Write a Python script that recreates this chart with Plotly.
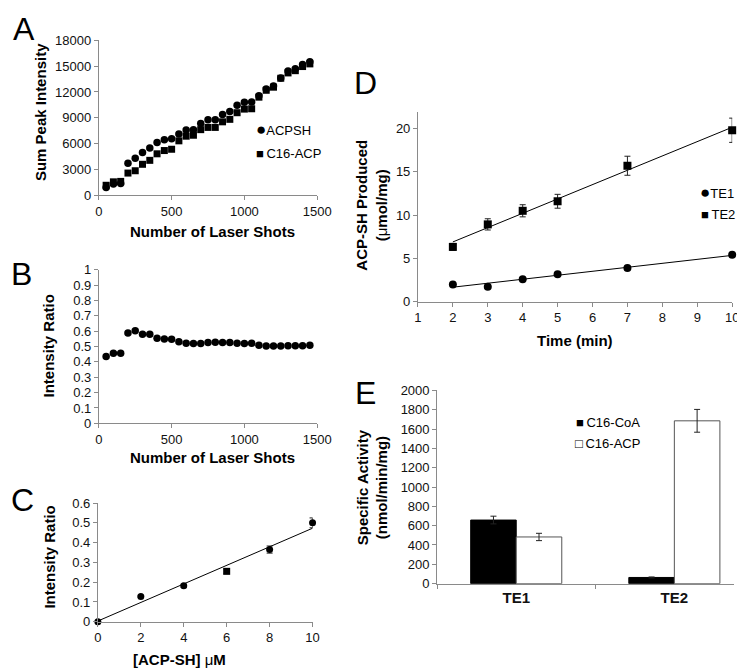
import numpy as np
import plotly.graph_objects as go

# ---------------- data ----------------
# Panel A / B
shots = [50, 100, 150, 200, 250, 300, 350, 400, 450, 500, 550, 600, 650, 700, 750,
         800, 850, 900, 950, 1000, 1050, 1100, 1150, 1200, 1250, 1300, 1350, 1400, 1450]
acpsh = [900, 1300, 1350, 3710, 4280, 4960, 5490, 6140, 6440, 6550, 7120, 7570, 7610, 8330, 8760,
         8760, 9390, 9730, 10460, 10800, 10840, 11550, 12350, 12700, 13640, 14440, 14700, 15190, 15530]
c16_acp = [1150, 1550, 1600, 2570, 2840, 3590, 4050, 4810, 5190, 5340, 6320, 6860, 6970, 7620, 7880,
           7880, 8530, 8820, 9590, 10010, 10050, 11400, 12200, 12560, 13600, 14220, 14480, 14960, 15270]
ratio_b = [0.436, 0.457, 0.457, 0.589, 0.603, 0.580, 0.580, 0.554, 0.550, 0.548, 0.531, 0.522, 0.520,
           0.520, 0.526, 0.529, 0.526, 0.526, 0.522, 0.520, 0.522, 0.508, 0.504, 0.504, 0.504, 0.506,
           0.506, 0.506, 0.508]

# Panel C
conc = [0, 2, 4, 6, 8, 10]
ratio_c = [0.0, 0.128, 0.182, 0.255, 0.365, 0.50]
ratio_c_err = [0.0, 0.006, 0.008, 0.012, 0.018, 0.025]
ratio_c_symbol = ["circle", "circle", "circle", "square", "circle", "circle"]

# Panel D
time_min = [2, 3, 4, 5, 7, 10]
te1 = [2.0, 1.73, 2.6, 3.16, 3.88, 5.42]
te1_err = [0.15, 0.15, 0.15, 0.15, 0.2, 0.25]
te2 = [6.33, 8.93, 10.5, 11.6, 15.7, 19.8]
te2_err = [0.4, 0.65, 0.7, 0.8, 1.1, 1.4]

# Panel E
enzymes = ["TE1", "TE2"]
c16_coa_act = [658, 64]
c16_coa_err = [40, 5]
c16_acp_act = [483, 1685]
c16_acp_err = [38, 118]

# ---------------- layout helpers ----------------
W, H = 745, 668
FONT = "Liberation Sans, Arial, sans-serif"
AX = "#8a8a8a"


def dx(a, b):
    return [a / W, b / W]


def dy(top, bottom):
    return [1 - bottom / H, 1 - top / H]


def px(x):
    return x / W


def py(y):
    return 1 - y / H


fig = go.Figure()

err_style = dict(type="data", color="#222", thickness=1, width=3)

# Panel A
fig.add_trace(go.Scatter(x=shots, y=acpsh, mode="markers", name="ACPSH",
                         marker=dict(symbol="circle", size=7.5, color="black"),
                         xaxis="x", yaxis="y", cliponaxis=False))
fig.add_trace(go.Scatter(x=shots, y=c16_acp, mode="markers", name="C16-ACP",
                         marker=dict(symbol="square", size=7, color="black"),
                         xaxis="x", yaxis="y", cliponaxis=False))
# Panel B
fig.add_trace(go.Scatter(x=shots, y=ratio_b, mode="markers", name="ratio",
                         marker=dict(symbol="circle", size=7.5, color="black"),
                         xaxis="x2", yaxis="y2", cliponaxis=False))
# Panel C
slope_c, icpt_c = np.polyfit(conc, ratio_c, 1)
xc = np.array([min(conc), max(conc)])
fig.add_trace(go.Scatter(x=xc, y=slope_c * xc + icpt_c, mode="lines",
                         line=dict(color="black", width=1), xaxis="x3", yaxis="y3",
                         cliponaxis=False))
fig.add_trace(go.Scatter(x=conc, y=ratio_c, mode="markers",
                         marker=dict(symbol=ratio_c_symbol, size=7, color="black"),
                         error_y=dict(array=ratio_c_err, **err_style),
                         xaxis="x3", yaxis="y3", cliponaxis=False))
# Panel D
xt = np.array([min(time_min), max(time_min)])
for ys, errs, sym in [(te2, te2_err, "square"), (te1, te1_err, "circle")]:
    s, b = np.polyfit(time_min, ys, 1)
    fig.add_trace(go.Scatter(x=xt, y=s * xt + b, mode="lines",
                             line=dict(color="black", width=1), xaxis="x4", yaxis="y4",
                             cliponaxis=False))
    fig.add_trace(go.Scatter(x=time_min, y=ys, mode="markers",
                             marker=dict(symbol=sym, size=8, color="black"),
                             error_y=dict(array=errs, **err_style),
                             xaxis="x4", yaxis="y4", cliponaxis=False))
# Panel E
fig.add_trace(go.Bar(x=enzymes, y=c16_coa_act, name="C16-CoA",
                     marker=dict(color="black", line=dict(color="black", width=1)),
                     error_y=dict(array=c16_coa_err, **err_style),
                     xaxis="x5", yaxis="y5"))
fig.add_trace(go.Bar(x=enzymes, y=c16_acp_act, name="C16-ACP",
                     marker=dict(color="white", line=dict(color="#555", width=1)),
                     error_y=dict(array=c16_acp_err, **err_style),
                     xaxis="x5", yaxis="y5"))

axis_common = dict(showline=True, linecolor=AX, linewidth=1, ticks="outside", ticklen=4,
                   tickcolor=AX, showgrid=False, zeroline=False,
                   tickfont=dict(family=FONT, size=13, color="#111"))

fig.update_layout(
    width=W, height=H, margin=dict(l=0, r=0, t=0, b=0),
    paper_bgcolor="white", plot_bgcolor="white", showlegend=False,
    font=dict(family=FONT, color="black"),
    barmode="group", bargap=0.424, bargroupgap=0,
    xaxis=dict(domain=dx(89, 312.7), range=[0, 1500], tickvals=[0, 500, 1000, 1500],
               anchor="y", **axis_common),
    yaxis=dict(domain=dy(26, 184.3), range=[0, 18000], dtick=3000, tickformat="d",
               anchor="x", **axis_common),
    xaxis2=dict(domain=dx(89, 312.7), range=[0, 1500], tickvals=[0, 500, 1000, 1500],
                anchor="y2", **axis_common),
    yaxis2=dict(domain=dy(260.7, 417.7), range=[0, 1], dtick=0.1, anchor="x2", **axis_common),
    xaxis3=dict(domain=dx(88, 308), range=[0, 10], dtick=2, anchor="y3", **axis_common),
    yaxis3=dict(domain=dy(499.3, 620.7), range=[0, 0.6], dtick=0.1, anchor="x3", **axis_common),
    xaxis4=dict(domain=dx(416, 738), range=[1, 10], dtick=1, anchor="y4", **axis_common),
    yaxis4=dict(domain=dy(99.3, 293.3), range=[0, 21.9], dtick=5, anchor="x4", **axis_common),
    xaxis5=dict(domain=dx(435.7, 740), range=[-0.5, 1.378], anchor="y5", tickson="boundaries",
                type="category", **{**axis_common,
                                    "tickfont": dict(family=FONT, size=15, color="#111",
                                                     weight="bold")}),
    yaxis5=dict(domain=dy(384, 581.7), range=[0, 2000], dtick=200, tickformat="d",
                anchor="x5", **axis_common),
)


def ann(text, x, y, size=15, angle=0, xanchor="center", yanchor="middle", color="black"):
    fig.add_annotation(text=text, x=px(x), y=py(y), xref="paper", yref="paper",
                       showarrow=False, textangle=angle, xanchor=xanchor, yanchor=yanchor,
                       font=dict(family=FONT, size=size, color=color))


# panel letters
ann("A", 12, 14, size=32)
ann("B", 10, 265, size=32)
ann("C", 11, 496, size=32)
ann("D", 362, 70, size=32)
ann("E", 362, 387, size=32)

# axis titles
ann("<b>Sum Peak Intensity</b>", 29, 99, angle=-90)
ann("<b>Number of Laser Shots</b>", 205, 221)
ann("<b>Intensity Ratio</b>", 37, 339, angle=-90)
ann("<b>Number of Laser Shots</b>", 205, 453)
ann("<b>Intensity Ratio</b>", 38, 555, angle=-90)
ann("<b>[ACP-SH] </b>μ<b>M</b>", 172, 659)
ann("<b>ACP-SH Produced</b><br><b>(</b>μ<b>mol/mg)</b>", 369, 195, angle=-90)
ann("<b>Time (min)</b>", 577, 333)
ann("<b>Specific Activity</b><br><b>(nmol/min/mg)</b>", 369, 483, angle=-90)

# legends
DOT = "<span style='font-size:17px'>●</span>"
TS = "\u2009"
ann(DOT + "ACPSH", 248, 117, size=13, xanchor="left")
ann("■" + TS + "C16-ACP", 248, 142, size=13, xanchor="left")
ann(DOT + "TE1", 703, 182, size=13, xanchor="left")
ann("■" + TS + "TE2", 704, 204, size=13, xanchor="left")
ann("■" + TS + "C16-CoA", 576, 417, size=13, xanchor="left")
ann("□" + TS + "C16-ACP", 575, 438, size=13, xanchor="left")

fig.write_html("out.html")
